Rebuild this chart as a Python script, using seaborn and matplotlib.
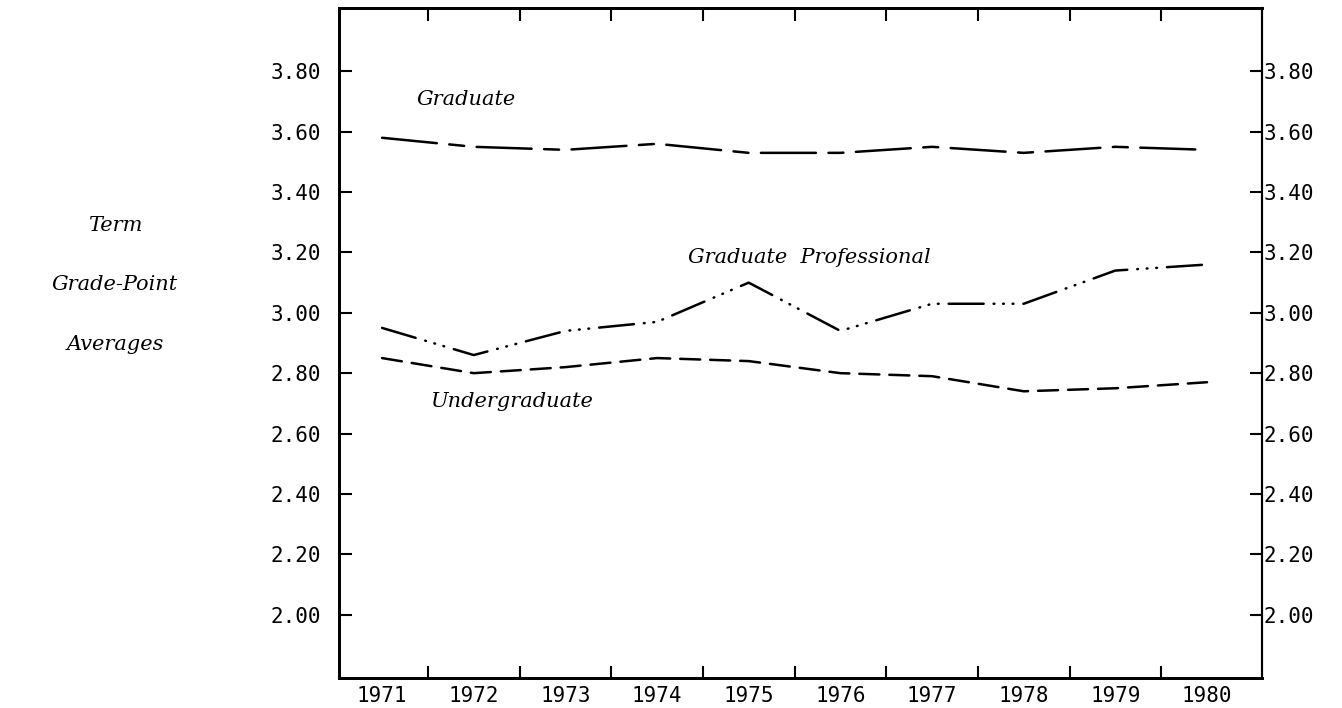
import seaborn as sns
import matplotlib.pyplot as plt
import pandas as pd

years = [1971, 1972, 1973, 1974, 1975, 1976, 1977, 1978, 1979, 1980]
graduate = [3.58, 3.55, 3.54, 3.56, 3.53, 3.53, 3.55, 3.53, 3.55, 3.54]
grad_professional = [2.95, 2.86, 2.94, 2.97, 3.10, 2.94, 3.03, 3.03, 3.14, 3.16]
undergraduate = [2.85, 2.80, 2.82, 2.85, 2.84, 2.80, 2.79, 2.74, 2.75, 2.77]
y_ticks = [2.00, 2.20, 2.40, 2.60, 2.80, 3.00, 3.20, 3.40, 3.60, 3.80]

sns.set_style("white")
plt.rcParams["text.color"] = "black"
plt.rcParams["xtick.color"] = "black"
plt.rcParams["ytick.color"] = "black"
mono = "DejaVu Sans Mono"
serif_it = dict(family="DejaVu Serif", style="italic", fontsize=15, color="black")

fig = plt.figure(figsize=(13.42, 7.08), dpi=100)
ax = fig.add_axes([0.2526, 0.0424, 0.6878, 0.9463])

df = pd.DataFrame({"year": years, "Graduate": graduate,
                   "Graduate Professional": grad_professional,
                   "Undergraduate": undergraduate})

styles = {
    "Graduate": (0, (22, 5, 6, 5)),
    "Graduate Professional": (0, (14, 4, 0.3, 3.5, 0.3, 3.5, 0.3, 4)),
    "Undergraduate": (0, (8, 4)),
}
for name, ls in styles.items():
    sns.lineplot(data=df, x="year", y=name, ax=ax, color="black",
                 linewidth=1.8, linestyle=ls, dash_capstyle="round")

ax.set_xlim(1970.53, 1980.6)
ax.set_ylim(1.79, 4.01)
ax.set_xlabel("")
ax.set_ylabel("")

# year labels sit between the tick marks
ax.set_xticks(years)
ax.set_xticklabels([str(y) for y in years], family=mono, fontsize=15)
ax.set_xticks([y + 0.5 for y in years[:-1]], minor=True)
ax.tick_params(axis="x", which="major", length=0, pad=6)
ax.tick_params(axis="x", which="minor", direction="in", length=9, width=1.5,
               top=True, bottom=True)

ax.set_yticks(y_ticks)
ax.set_yticklabels([f"{v:.2f}" for v in y_ticks], family=mono, fontsize=15)
ax.tick_params(axis="y", which="major", direction="in", length=9, width=1.5,
               left=True, right=False, pad=13)

# right-hand scale, labels hugging the spine
ax2 = ax.twinx()
ax2.set_ylim(ax.get_ylim())
ax2.set_yticks(y_ticks)
ax2.set_yticklabels([f"{v:.2f}" for v in y_ticks], family=mono, fontsize=15)
ax2.tick_params(axis="y", direction="in", length=9, width=1.5, pad=1)
ax2.grid(False)

for a in (ax, ax2):
    for sp in a.spines.values():
        sp.set_visible(True)
        sp.set_color("black")
        sp.set_linewidth(2.0)
    a.spines["right"].set_linewidth(1.5)

ax.text(1971.38, 3.707, "Graduate", va="center", ha="left", **serif_it)
ax.text(1974.34, 3.183, "Graduate  Professional", va="center", ha="left", **serif_it)
ax.text(1971.52, 2.705, "Undergraduate", va="center", ha="left", **serif_it)

for txt, yy in [("Term", 225), ("Grade-Point", 285), ("Averages", 345)]:
    fig.text(115 / 1342, 1 - yy / 708, txt, ha="center", va="center", **serif_it)

fig.savefig("out.png", dpi=100)
